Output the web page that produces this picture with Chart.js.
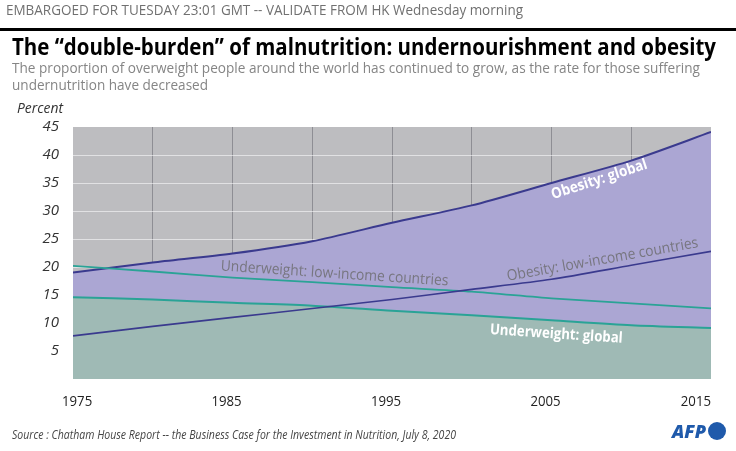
<!DOCTYPE html>
<html>
<head>
<meta charset="utf-8">
<script src="https://cdn.jsdelivr.net/npm/chart.js@4"></script>
<style>
  body { margin: 0; background: #fff; }
  canvas { display: block; }
</style>
</head>
<body>
<canvas id="malnutrition" width="736" height="451"></canvas>
<script>
/* data read from the AFP graphic, percent of population */
const years = [1975, 1980, 1985, 1990, 1995, 2000, 2005, 2010, 2015];
const obesityGlobal = [19.0, 20.8, 22.4, 24.6, 27.9, 31.0, 35.0, 39.0, 44.1];
const obesityLowIncome = [7.7, 9.4, 11.0, 12.6, 14.2, 16.0, 17.8, 20.3, 22.8];
const underweightLowIncome = [20.2, 19.2, 18.1, 17.3, 16.4, 15.6, 14.4, 13.5, 12.6];
const underweightGlobal = [14.6, 14.2, 13.6, 13.1, 12.2, 11.4, 10.5, 9.6, 9.1];
const xLabels = [1975, 1985, 1995, 2005, 2015];
const yTicks = [5, 10, 15, 20, 25, 30, 35, 40, 45];

const FONT = "'Open Sans', 'Noto Sans', sans-serif";

function pts(values) {
  return years.map((y, i) => ({ x: y, y: values[i] }));
}

// draw text squeezed to a given width (the original uses a condensed face)
function fitText(ctx, text, x, y, width, font, color, angle) {
  ctx.save();
  ctx.font = font;
  ctx.fillStyle = color;
  const w = ctx.measureText(text).width;
  ctx.translate(x, y);
  if (angle) ctx.rotate(angle * Math.PI / 180);
  ctx.scale(width / w, 1);
  ctx.fillText(text, 0, 0);
  ctx.restore();
}

const plotBackground = {
  id: "plotBackground",
  beforeDraw(chart) {
    const { ctx, chartArea: a } = chart;
    ctx.save();
    ctx.fillStyle = "#bdbdc0";
    ctx.fillRect(a.left, a.top, a.right - a.left, a.bottom - a.top);
    ctx.restore();
  },
};

const decorations = {
  id: "decorations",
  afterDraw(chart) {
    const { ctx, chartArea: a } = chart;
    const xs = chart.scales.x;
    const ys = chart.scales.y;

    // header
    ctx.textAlign = "left";
    ctx.textBaseline = "alphabetic";
    fitText(ctx, "EMBARGOED FOR TUESDAY 23:01 GMT -- VALIDATE FROM HK Wednesday morning",
      6, 15, 517, "15px " + FONT, "#707070");
    ctx.fillStyle = "#000";
    ctx.fillRect(0, 28, 736, 3);
    fitText(ctx, "The \u201cdouble-burden\u201d of malnutrition: undernourishment and obesity",
      12, 55, 704, "bold 24px " + FONT, "#000");
    fitText(ctx, "The proportion of overweight people around the world has continued to grow, as the rate for those suffering",
      12, 73, 688, "15px " + FONT, "#858585");
    fitText(ctx, "undernutrition have decreased", 12, 90, 196, "15px " + FONT, "#858585");
    fitText(ctx, "Percent", 17, 113, 46, "italic 15px " + FONT, "#333");

    // x labels, kept inside the plot at the right edge
    ctx.font = "15px " + FONT;
    xLabels.forEach((yr) => {
      const w = ctx.measureText(String(yr)).width * 0.88;
      let cx = xs.getPixelForValue(yr) - 6;
      if (cx + w / 2 > a.right) cx = a.right - w / 2;
      if (cx - w / 2 < 62) cx = 62 + w / 2;
      fitText(ctx, String(yr), cx - w / 2, 406, w, "15px " + FONT, "#222");
    });

    // line labels
    ctx.textAlign = "center";
    ctx.textBaseline = "middle";
    fitText(ctx, "Obesity: global", xs.getPixelForValue(2008.0), ys.getPixelForValue(35.6),
      100, "bold 15px " + FONT, "#fff", -18);
    fitText(ctx, "Obesity: low-income countries", xs.getPixelForValue(2008.2), ys.getPixelForValue(21.3),
      194, "15px " + FONT, "#77767f", -10);
    fitText(ctx, "Underweight: low-income countries", xs.getPixelForValue(1991.4), ys.getPixelForValue(18.8),
      228, "15px " + FONT, "#77767f", 3.8);
    fitText(ctx, "Underweight: global", xs.getPixelForValue(2005.3), ys.getPixelForValue(8.0),
      133, "bold 15px " + FONT, "#fff", 3.8);

    // footer
    ctx.textAlign = "left";
    ctx.textBaseline = "alphabetic";
    fitText(ctx, "Source : Chatham House Report -- the Business Case for the Investment in Nutrition, July 8, 2020",
      12, 439, 444, "italic 12px " + FONT, "#444");
    fitText(ctx, "AFP", 672, 438, 34, "italic 900 17px " + FONT, "#1f5aab");
    ctx.beginPath();
    ctx.fillStyle = "#1f5aab";
    ctx.arc(717, 431, 9, 0, Math.PI * 2);
    ctx.fill();
  },
};

const graph = document.getElementById("malnutrition");

new Chart(graph, {
  type: "line",
  data: {
    datasets: [
      {
        label: "Obesity: low-income countries",
        data: pts(obesityLowIncome),
        borderColor: "#3a3a8e",
        borderWidth: 1.6,
        fill: false,
      },
      {
        label: "Underweight: low-income countries",
        data: pts(underweightLowIncome),
        borderColor: "#2aa396",
        borderWidth: 1.8,
        fill: false,
      },
      {
        label: "Underweight: global",
        data: pts(underweightGlobal),
        borderColor: "#2aa396",
        borderWidth: 2,
        backgroundColor: "#9fbab5",
        fill: "origin",
      },
      {
        label: "Obesity: global",
        data: pts(obesityGlobal),
        borderColor: "#3a3a8e",
        borderWidth: 2,
        backgroundColor: "#aba6d3",
        fill: "origin",
      },
    ],
  },
  options: {
    responsive: false,
    animation: false,
    layout: { padding: { left: 0, top: 127, right: 25, bottom: 72 } },
    elements: { point: { radius: 0 }, line: { tension: 0.25 } },
    plugins: { legend: { display: false }, tooltip: { enabled: false } },
    scales: {
      x: {
        type: "linear",
        min: 1975,
        max: 2015,
        z: 1,
        border: { display: false },
        ticks: { display: false, stepSize: 5 },
        grid: {
          drawTicks: false,
          color: (c) => (c.tick && (c.tick.value === 1975 || c.tick.value === 2015) ? "rgba(0,0,0,0)" : "#8e8e94"),
          lineWidth: 1,
        },
      },
      y: {
        min: 0,
        max: 45,
        z: 1,
        border: { display: false },
        afterFit(scale) { scale.width = 73; },
        afterBuildTicks(scale) { scale.ticks = [0].concat(yTicks).map((v) => ({ value: v })); },
        ticks: {
          padding: 14,
          color: "#333",
          font: { family: FONT, size: 15, style: "italic" },
          callback: (v) => (v === 0 ? "" : v),
        },
        grid: {
          drawTicks: false,
          color: (c) => (c.tick && c.tick.value === 45 ? "rgba(0,0,0,0)" : "rgba(255,255,255,0.55)"),
          borderDash: [2, 2],
          lineWidth: 1,
        },
      },
    },
  },
  plugins: [plotBackground, decorations],
});
</script>
</body>
</html>
